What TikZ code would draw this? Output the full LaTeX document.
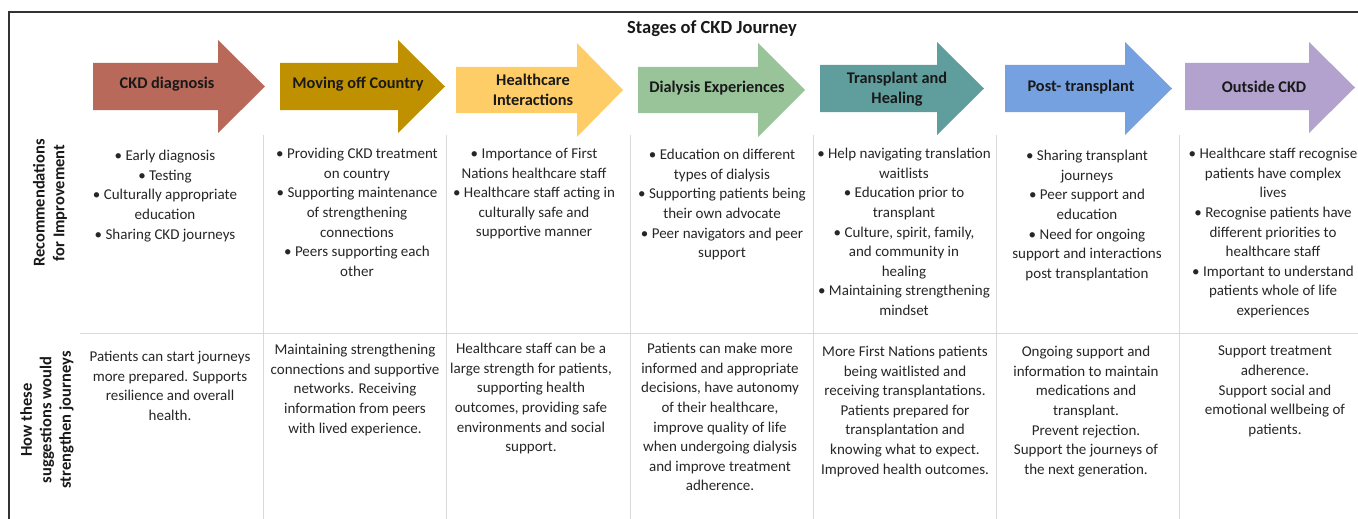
\documentclass[tikz,border=0pt]{standalone}
\usepackage{fontspec}
\setmainfont{Carlito}
\begin{document}
\begin{tikzpicture}[x=1pt,y=-1pt,
  celltext/.style={anchor=north,align=center,inner sep=0pt,text=black!85,
    font=\fontsize{15}{19.6}\selectfont},
  stagetext/.style={align=center,inner sep=0pt,text=black!90,
    font=\fontsize{16.3}{19.6}\selectfont\bfseries},
  rowlabel/.style={rotate=90,align=center,inner sep=0pt,text=black!90,
    font=\fontsize{16.5}{19.6}\selectfont\bfseries},
  gridline/.style={line width=1pt,draw=black!15}]
\useasboundingbox (0,0) rectangle (1358,519);

% Drawing frame and grid
\draw [line width=1.4pt,black!80] (9,519) -- (9,12) -- (1358,12);%
\draw [gridline] (80,333) -- (1358,333);%
\draw [gridline] (263,135) -- (263,519);%
\draw [gridline] (446,135) -- (446,519);%
\draw [gridline] (630,135) -- (630,519);%
\draw [gridline] (813,135) -- (813,519);%
\draw [gridline] (996,135) -- (996,519);%
\draw [gridline] (1179,135) -- (1179,519);%

% Title
\node [font=\fontsize{18.5}{22}\selectfont\bfseries,text=black!90] (title) at (712,29) {Stages of CKD Journey};%

% Drawing stage arrows
\definecolor{r185g105b90}{HTML}{B9695A}%
\fill [r185g105b90] (93,63) -- (218,63) -- (218,40) -- (265,86.5) -- (218,133) -- (218,110) -- (93,110) -- cycle;%
\definecolor{r191g144b0}{HTML}{BF9000}%
\fill [r191g144b0] (280,63) -- (398,63) -- (398,40) -- (445,86.5) -- (398,133) -- (398,110) -- (280,110) -- cycle;%
\definecolor{r254g205b103}{HTML}{FECD67}%
\fill [r254g205b103] (456,67) -- (577,67) -- (577,43) -- (623,90) -- (577,137) -- (577,113) -- (456,113) -- cycle;%
\definecolor{r153g196b154}{HTML}{99C49A}%
\fill [r153g196b154] (638,67) -- (758,67) -- (758,43) -- (805,90) -- (758,137) -- (758,113) -- (638,113) -- cycle;%
\definecolor{r95g158b156}{HTML}{5F9E9C}%
\fill [r95g158b156] (820,65) -- (937,65) -- (937,42) -- (984,88.5) -- (937,135) -- (937,112) -- (820,112) -- cycle;%
\definecolor{r118g161b224}{HTML}{76A1E0}%
\fill [r118g161b224] (1005,65) -- (1125,65) -- (1125,42) -- (1172,88.5) -- (1125,135) -- (1125,112) -- (1005,112) -- cycle;%
\definecolor{r179g162b205}{HTML}{B3A2CD}%
\fill [r179g162b205] (1185,63) -- (1309,63) -- (1309,42) -- (1355,87.5) -- (1309,133) -- (1309,110) -- (1185,110) -- cycle;%

\node [stagetext] (diagnosis) at (167,84) {CKD diagnosis};%
\node [stagetext] (country) at (358,84) {Moving off Country};%
\node [stagetext] (healthcare) at (533,90) {Healthcare\\Interactions};%
\node [stagetext] (dialysis) at (717,88) {Dialysis Experiences};%
\node [stagetext] (transplant) at (897,89) {Transplant and\\Healing};%
\node [stagetext] (posttransplant) at (1081,87) {Post- transplant};%
\node [stagetext] (outside) at (1264,87) {Outside CKD};%

% Row labels
\node [rowlabel] (recommend) at (50,203) {Recommendations\\for Improvement};%
\node [rowlabel] (strengthen) at (47,420) {How these\\suggestions would\\strengthen journeys};%

% Recommendations for improvement
\node [celltext] (recA) at (165,150) {• Early diagnosis\\• Testing\\• Culturally appropriate\\education\\• Sharing CKD journeys};%
\node [celltext] (recB) at (357,148) {• Providing CKD treatment\\on country\\• Supporting maintenance\\of strengthening\\connections\\• Peers supporting each\\other};%
\node [celltext] (recC) at (534,148) {• Importance of First\\Nations healthcare staff\\• Healthcare staff acting in\\culturally safe and\\supportive manner};%
\node [celltext] (recD) at (722,149) {• Education on different\\types of dialysis\\• Supporting patients being\\their own advocate\\• Peer navigators and peer\\support};%
\node [celltext] (recE) at (904,148) {• Help navigating translation\\waitlists\\• Education prior to\\transplant\\• Culture, spirit, family,\\and community in\\healing\\• Maintaining strengthening\\mindset};%
\node [celltext] (recF) at (1087,150) {• Sharing transplant\\journeys\\• Peer support and\\education\\• Need for ongoing\\support and interactions\\post transplantation};%
\node [celltext] (recG) at (1273,148) {• Healthcare staff recognise\\patients have complex\\lives\\• Recognise patients have\\different priorities to\\healthcare staff\\• Important to understand\\patients whole of life\\experiences};%

% How these suggestions would strengthen journeys
\node [celltext] (howA) at (170,351) {Patients can start journeys\\more prepared. Supports\\resilience and overall\\health.};%
\node [celltext] (howB) at (355,344) {Maintaining strengthening\\connections and supportive\\networks. Receiving\\information from peers\\with lived experience.};%
\node [celltext] (howC) at (531,343) {Healthcare staff can be a\\large strength for patients,\\supporting health\\outcomes, providing safe\\environments and social\\support.};%
\node [celltext] (howD) at (720,343) {Patients can make more\\informed and appropriate\\decisions, have autonomy\\of their healthcare,\\improve quality of life\\when undergoing dialysis\\and improve treatment\\adherence.};%
\node [celltext] (howE) at (905,346) {More First Nations patients\\being waitlisted and\\receiving transplantations.\\Patients prepared for\\transplantation and\\knowing what to expect.\\Improved health outcomes.};%
\node [celltext] (howF) at (1086,346) {Ongoing support and\\information to maintain\\medications and\\transplant.\\Prevent rejection.\\Support the journeys of\\the next generation.};%
\node [celltext] (howG) at (1275,346) {Support treatment\\adherence.\\Support social and\\emotional wellbeing of\\patients.};%
\end{tikzpicture}
\end{document}
